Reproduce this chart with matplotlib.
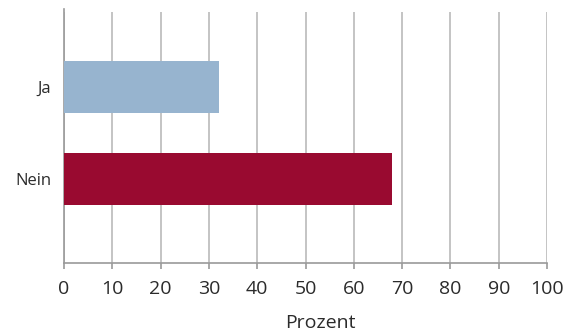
import numpy as np
import matplotlib.pyplot as plt

# Daten
kategorien = ['Nein', 'Ja']
werte = [68, 32]
farben = ['#990a30', '#97b4cf']
x_ticks = list(range(0, 101, 10))

plt.rcParams['font.family'] = ['Open Sans', 'DejaVu Sans']

fig = plt.figure(figsize=(5.74, 3.33), dpi=100)
ax = fig.add_axes([64 / 574, 70 / 333, 483 / 574, 251 / 333])

pos = np.arange(len(kategorien))
ax.barh(pos, werte, height=0.565, color=farben, zorder=3)

ax.set_xlim(0, 100)
ax.set_ylim(-0.913, 1.815)
ax.set_xticks(x_ticks)
ax.set_yticks(pos)
ax.set_yticklabels(kategorien)

# Gitter und Achsen
ax.grid(axis='x', color='#c4c4c4', linewidth=1.4, zorder=0)
for s in ['top', 'right']:
    ax.spines[s].set_visible(False)
ax.spines['left'].set_color('#9a9a9a')
ax.spines['bottom'].set_color('#9a9a9a')
ax.spines['left'].set_linewidth(1.2)
ax.spines['bottom'].set_linewidth(1.2)
ax.spines['left'].set_bounds(-0.913, 1.85)

ax.tick_params(axis='y', length=0, pad=9, labelsize=12, labelcolor='#2b2b2b')
ax.tick_params(axis='x', length=4, width=1.2, color='#9a9a9a', pad=8,
               labelsize=14, labelcolor='#2b2b2b')

ax.set_xlabel('Prozent', fontsize=14, color='#2b2b2b')
ax.xaxis.set_label_coords(0.53, -0.205)

fig.savefig('out.png', dpi=100)
